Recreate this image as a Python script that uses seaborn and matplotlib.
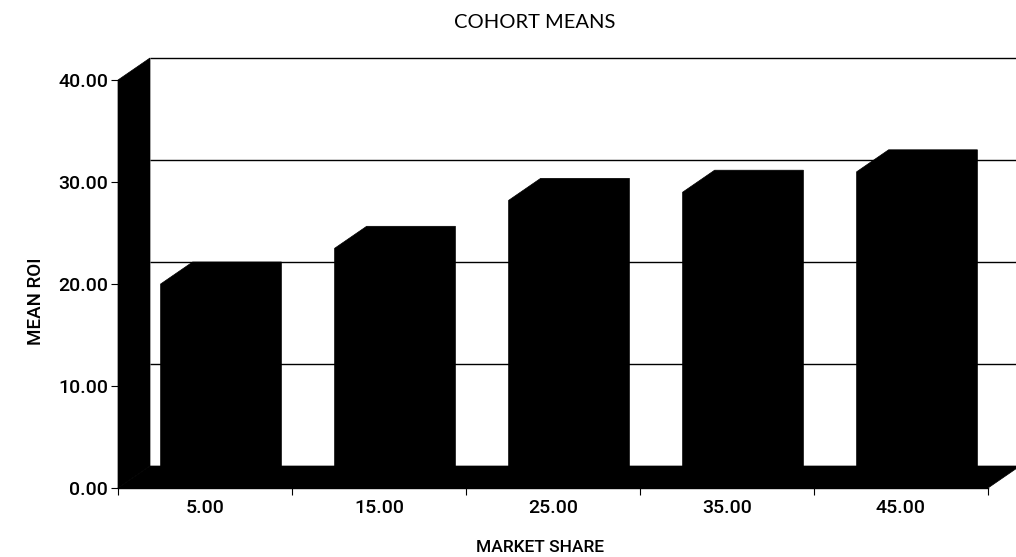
import numpy as np
import matplotlib
matplotlib.use("Agg")
import matplotlib.pyplot as plt
from matplotlib.patches import Polygon
import seaborn as sns

# Cohort means of ROI by market-share band
share_labels = ["5.00", "15.00", "25.00", "35.00", "45.00"]
mean_roi = [20.0, 23.5, 28.2, 29.0, 31.0]
y_ticks = [0, 10, 20, 30, 40]
y_tick_labels = ["0.00", "10.00", "20.00", "30.00", "40.00"]

W, H, DPI = 1016, 557, 100
sns.set_theme(style="white")
plt.rcParams["font.family"] = ["Liberation Sans", "DejaVu Sans"]

fig = plt.figure(figsize=(W / DPI, H / DPI), dpi=DPI)
fig.patch.set_facecolor("white")

# axes box in pixel terms: left 118, right 988, bottom 488, top 80
left, right, bottom, top = 118, 988, 488, 80
ax = fig.add_axes([left / W, (H - bottom) / H, (right - left) / W, (bottom - top) / H])

df = {"share": share_labels, "roi": mean_roi}
sns.barplot(x="share", y="roi", data=df, color="black", saturation=1,
            width=0.51, ax=ax, zorder=4, edgecolor="black", linewidth=0.5)

n = len(share_labels)
ax.set_xlim(-0.5, n - 0.5)
ax.set_ylim(0, 40)

# depth offset of the 3-D box, expressed in data units
depth_px = (32, 22)
ddx = depth_px[0] / ((right - left) / n)
ddy = depth_px[1] / ((bottom - top) / 40)

x0, x1 = -0.5, n - 0.5

# back wall: top edge and gridlines
for v in y_ticks[1:]:
    ax.plot([x0 + ddx, x1 + ddx], [v + ddy, v + ddy], color="black",
            lw=1.0, zorder=1, clip_on=False, solid_capstyle="butt")

# floor slab
ax.add_patch(Polygon([(x0, 0), (x1, 0), (x1 + ddx, ddy), (x0 + ddx, ddy)],
                     closed=True, facecolor="black", edgecolor="black",
                     lw=0.5, zorder=3, clip_on=False))
# left side wall
ax.add_patch(Polygon([(x0, 0), (x0, 40), (x0 + ddx, 40 + ddy), (x0 + ddx, ddy)],
                     closed=True, facecolor="black", edgecolor="black",
                     lw=0.5, zorder=3, clip_on=False))

# each bar as a solid block: front, top and side faces together
for bar in ax.patches[:n]:
    bx0 = bar.get_x()
    bx1 = bx0 + bar.get_width()
    h = bar.get_height()
    ax.add_patch(Polygon([(bx0, 0), (bx0, h), (bx0 + ddx, h + ddy),
                          (bx1 + ddx, h + ddy), (bx1 + ddx, ddy), (bx1, 0)],
                         closed=True, facecolor="black", edgecolor="black",
                         lw=0.5, zorder=4, clip_on=False))

# spines and ticks
for s in ["top", "right", "left"]:
    ax.spines[s].set_visible(False)
ax.spines["bottom"].set_color("black")
ax.spines["bottom"].set_linewidth(1.0)
ax.spines["bottom"].set_zorder(5)

tick_font = {"family": ["Roboto", "Liberation Sans", "DejaVu Sans"],
             "weight": "medium", "size": 14}
ax.set_yticks(y_ticks)
ax.set_yticklabels(y_tick_labels, fontdict=tick_font)
ax.set_xticks(range(n))
ax.set_xticklabels(share_labels, fontdict=tick_font)
ax.set_xticks(np.arange(-0.5, n, 1.0), minor=True)
ax.tick_params(axis="x", which="major", length=0, pad=8, labelcolor="black")
ax.tick_params(axis="x", which="minor", length=5, width=0.8, color="black",
               direction="out", bottom=True)
ax.tick_params(axis="y", which="major", length=5, width=0.8, color="black",
               direction="out", left=True, pad=2, labelcolor="black")
ax.set_xlabel("")
ax.set_ylabel("")
ax.set_facecolor("white")
ax.grid(False)

fig.text(535 / W, 1 - 23 / H, "COHORT MEANS", ha="center", va="center",
         fontsize=14.5, family=["Lato", "DejaVu Sans"], color="black")
fig.text(540 / W, 1 - 547 / H, "MARKET SHARE", ha="center", va="center",
         fontsize=12.5, family=["Roboto", "Liberation Sans", "DejaVu Sans"],
         weight="medium", color="black")
fig.text(36 / W, 1 - 301 / H, "MEAN ROI", ha="center", va="center",
         rotation=90, fontsize=13.5, family=["Roboto", "Liberation Sans", "DejaVu Sans"],
         weight="medium", color="black")

fig.savefig("out.png", dpi=DPI, facecolor="white")
